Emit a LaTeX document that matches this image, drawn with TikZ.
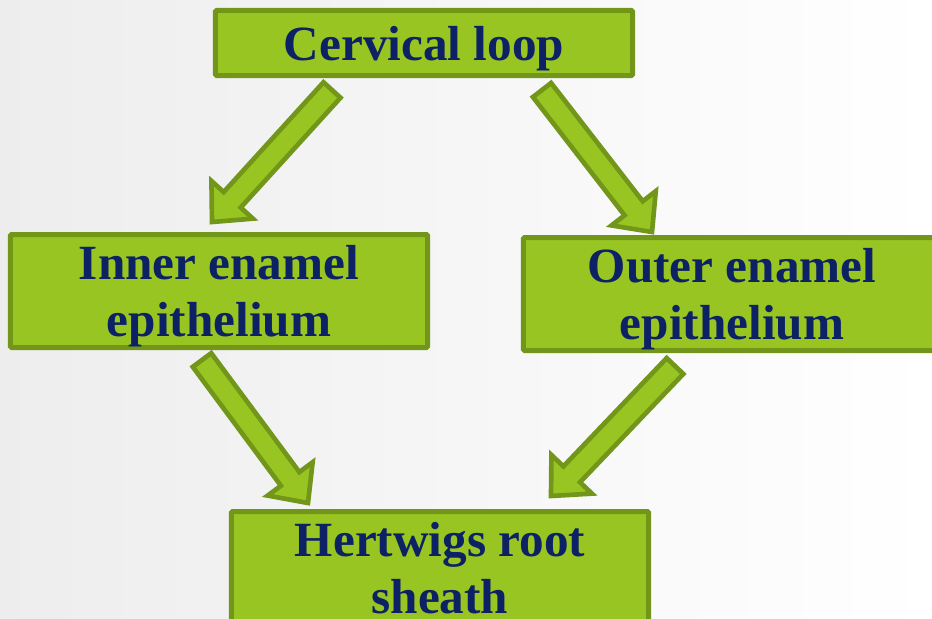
\documentclass[tikz,border=0pt]{standalone}
\usepackage{fontspec}
\setmainfont{Liberation Serif}
\usetikzlibrary{calc}

\definecolor{boxfill}{HTML}{99C523}
\definecolor{boxline}{HTML}{72961A}
\definecolor{navy}{HTML}{0D2264}

\tikzset{
  stagebox/.style={draw=boxline, fill=boxfill, line width=0.15cm, rounded corners=1pt,
    text=navy, font=\fontsize{42}{48}\selectfont\bfseries, align=center, inner sep=0pt,
    text depth=0pt, minimum width=12.51cm},
  blockarrow/.style={draw=boxline, fill=boxfill, line width=0.14cm, line join=miter}
}

\begin{document}
\begin{tikzpicture}[x=0.03cm,y=-0.03cm]
\useasboundingbox (0,0) rectangle (932,618);
\shade [left color=black!7, right color=white] (0,0) rectangle (932,618);

\node [stagebox, minimum height=1.95cm] (cervical) at (424,43) {Cervical loop};
\node [stagebox, minimum height=3.39cm] (inner) at (219,291) {Inner enamel\\epithelium};
\node [stagebox, minimum height=3.39cm] (outer) at (732,294) {Outer enamel\\epithelium};
\node [stagebox, minimum height=3.39cm] (hertwig) at (440,568) {Hertwigs root\\sheath};

% arrow ends
\coordinate (c1) at (332,90);
\coordinate (i1) at (212,222);
\coordinate (c2) at (542,90);
\coordinate (o1) at (652,232);
\coordinate (i2) at (202,360);
\coordinate (h1) at (308,503);
\coordinate (o2) at (675,366);
\coordinate (h2) at (551,496);

\foreach \s/\t in {c1/i1, c2/o1, i2/h1, o2/h2} {
  \coordinate (n) at ($(\t)!0.9cm!(\s)$);
  \draw [blockarrow] ($(\s)!0.345cm!90:(\t)$) -- ($(n)!0.345cm!-90:(\s)$)
    -- ($(n)!0.84cm!-90:(\s)$) -- (\t) -- ($(n)!0.84cm!90:(\s)$)
    -- ($(n)!0.345cm!90:(\s)$) -- ($(\s)!0.345cm!-90:(\t)$) -- cycle;
}

\end{tikzpicture}
\end{document}
